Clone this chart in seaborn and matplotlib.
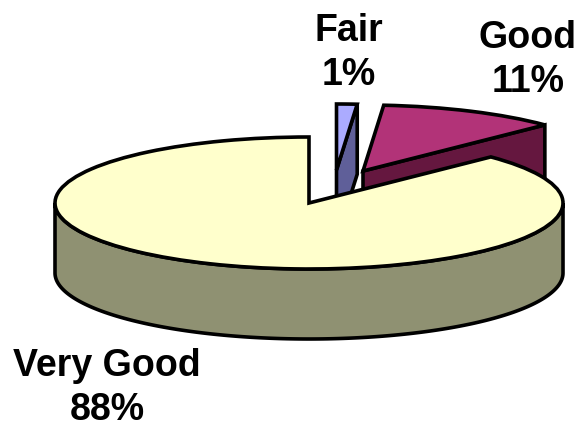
import numpy as np
import matplotlib
matplotlib.use("Agg")
import matplotlib.pyplot as plt
import seaborn as sns

categories = ["Fair", "Good", "Very Good"]
shares = [1.3, 11.4, 87.3]
pct_labels = ["1%", "11%", "88%"]

W, H = 579, 428
RX, RY = 254.0, 66.0
CX, CY = 309.0, 203.0
DEPTH = 70.0 / RY
LW = 2.6
top_colors = ["#ABABFF", "#B23378", "#FFFFCC"]
side_colors = ["#5F5F99", "#65173F", "#8F9172"]
offsets = [(27.5 / RX, 33 / RY), (54 / RX, 32 / RY), (0.0, 0.0)]
label_pos = [(349, 53), (528, 60), (107, 388)]

sns.set_theme(style="white")
plt.rcParams["font.family"] = ["Liberation Sans", "DejaVu Sans"]

fig = plt.figure(figsize=(W / 100, H / 100), dpi=100)
ax = fig.add_axes([0, 0, 1, 1])
wedges, _ = ax.pie(
    shares, colors=top_colors, startangle=90, counterclock=False, radius=1.0,
    wedgeprops=dict(edgecolor="black", linewidth=LW),
)
ax.set_aspect("auto")
ax.set_xlim(-CX / RX, (W - CX) / RX)
ax.set_ylim(-(H - CY) / RY, CY / RY)
ax.axis("off")


def radial_face(center, theta, color, z):
    cx, cy = center
    ox = cx + np.cos(np.radians(theta))
    oy = cy + np.sin(np.radians(theta))
    ax.fill([cx, ox, ox, cx], [cy, oy, oy - DEPTH, cy - DEPTH],
            facecolor=color, edgecolor="black", linewidth=LW, zorder=z)


for i, w in enumerate(wedges):
    w.set_center(offsets[i])
    w.set_zorder(2 * i + 2)
    if i < 2:
        # the wedge edge that faces the viewer is its clockwise one
        radial_face(offsets[i], w.theta1, side_colors[i], 2 * i + 1)
    else:
        t = np.radians(np.linspace(180, 360, 200))
        xs = np.cos(t)
        ys = np.sin(t)
        ax.fill(np.r_[xs, xs[::-1]], np.r_[ys, ys[::-1] - DEPTH],
                facecolor=side_colors[i], edgecolor="black", linewidth=LW,
                zorder=2 * i + 1)

for name, pct, (px, py) in zip(categories, pct_labels, label_pos):
    ax.text(px / W, 1 - py / H, f"{name}\n{pct}", transform=ax.transAxes,
            ha="center", va="center", fontsize=27, fontweight="bold",
            linespacing=1.28, color="black", zorder=10)

fig.savefig("out.png", dpi=100, facecolor="white")
